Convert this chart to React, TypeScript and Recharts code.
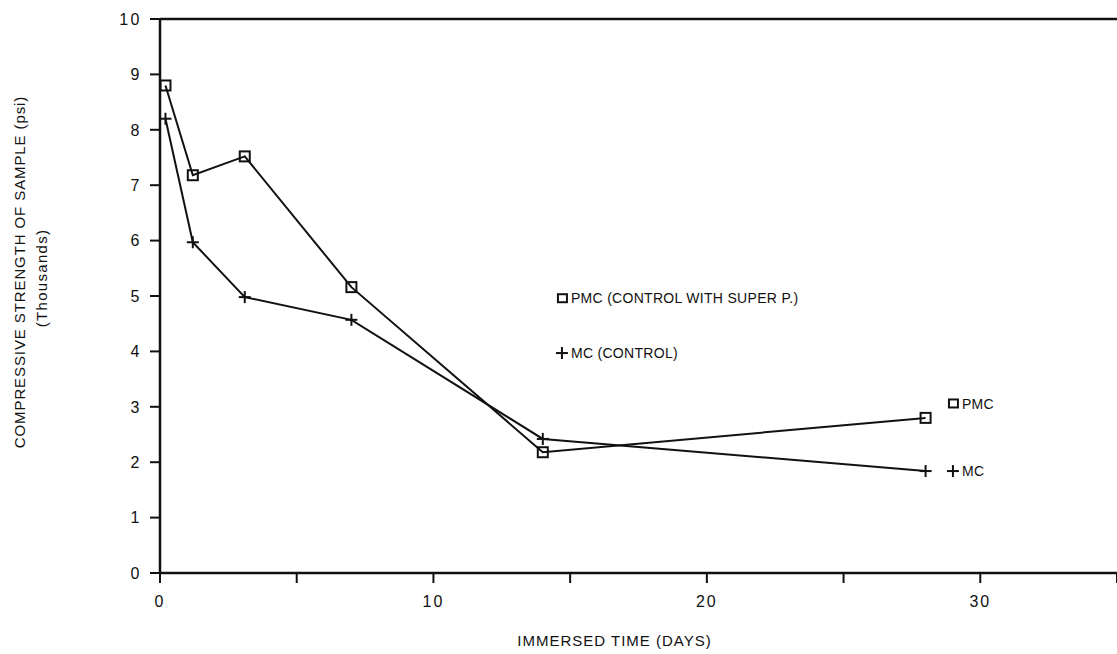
import React from 'react';
import { LineChart, Line, XAxis, YAxis, ReferenceLine, ReferenceDot, Label } from 'recharts';

const days = [0.2, 1.2, 3.1, 7, 14, 28];
const pmcStrength = [8.8, 7.18, 7.52, 5.16, 2.18, 2.8];
const mcStrength = [8.2, 5.97, 4.98, 4.57, 2.42, 1.84];
const xTicks = [0, 5, 10, 15, 20, 25, 30, 35];
const xLabelled = [0, 10, 20, 30];
const yTicks = [0, 1, 2, 3, 4, 5, 6, 7, 8, 9, 10];

const legendPmc = { x: 14.7, y: 4.96, text: 'PMC (CONTROL WITH SUPER P.)' };
const legendMc = { x: 14.7, y: 3.97, text: 'MC (CONTROL)' };
const endPmc = { x: 29, y: 3.06, text: 'PMC' };
const endMc = { x: 29, y: 1.84, text: 'MC' };

const data = days.map((d, i) => ({ day: d, pmc: pmcStrength[i], mc: mcStrength[i] }));

const FONT = '"Liberation Sans", Arial, sans-serif';
const INK = '#111';

const Square = (props: any) => {
  const { cx, cy } = props;
  if (cx == null || cy == null) return null;
  return <rect x={cx - 5} y={cy - 5} width={10} height={10} fill="none" stroke={INK} strokeWidth={2} />;
};

const Plus = (props: any) => {
  const { cx, cy } = props;
  if (cx == null || cy == null) return null;
  return (
    <g stroke={INK} strokeWidth={2}>
      <line x1={cx - 6} y1={cy} x2={cx + 6} y2={cy} />
      <line x1={cx} y1={cy - 6} x2={cx} y2={cy + 6} />
    </g>
  );
};

const annot = (kind: 'sq' | 'plus', text: string) => (props: any) => {
  const { cx, cy } = props;
  if (cx == null || cy == null) return null;
  return (
    <g>
      {kind === 'sq' ? (
        <rect x={cx - 4} y={cy - 4} width={9} height={8} fill="none" stroke={INK} strokeWidth={2} />
      ) : (
        <g stroke={INK} strokeWidth={2}>
          <line x1={cx - 6} y1={cy} x2={cx + 6} y2={cy} />
          <line x1={cx} y1={cy - 6} x2={cx} y2={cy + 6} />
        </g>
      )}
      <text x={cx + 9} y={cy} dy="0.36em" fontSize={14} fontFamily={FONT} fill={INK} letterSpacing={0.3}>
        {text}
      </text>
    </g>
  );
};

const XTick = (props: any) => {
  const { x, y, payload } = props;
  if (!xLabelled.includes(payload.value)) return null;
  return (
    <text x={x} y={y + 11} dy="0.71em" textAnchor="middle" fontSize={16} fontFamily={FONT} fill={INK} letterSpacing={2}>
      {payload.value}
    </text>
  );
};

const YTick = (props: any) => {
  const { x, y, payload } = props;
  return (
    <text x={x - 6} y={y} dy="0.36em" textAnchor="end" fontSize={16} fontFamily={FONT} fill={INK} letterSpacing={2.5}>
      {payload.value}
    </text>
  );
};

const YTitle = (props: any) => {
  const vb = props.viewBox || { x: 0, y: 19, width: 160, height: 554 };
  const cy = vb.y + vb.height / 2 - 24;
  const x1 = vb.x + 20;
  const x2 = vb.x + 42;
  return (
    <g fontFamily={FONT} fill={INK}>
      <text x={x1} y={cy} transform={`rotate(-90 ${x1} ${cy})`} textAnchor="middle" dy="0.36em" fontSize={15} letterSpacing={0.9}>
        COMPRESSIVE STRENGTH OF SAMPLE (psi)
      </text>
      <text x={x2} y={cy + 6} transform={`rotate(-90 ${x2} ${cy + 6})`} textAnchor="middle" dy="0.36em" fontSize={15} letterSpacing={1.3}>
        (Thousands)
      </text>
    </g>
  );
};

export default function App() {
  return (
    <div style={{ position: 'absolute', left: 0, top: 0, width: 1117, height: 654, overflow: 'hidden', background: '#fff' }}>
      <LineChart width={1117} height={654} data={data} margin={{ top: 19, right: 0, bottom: 0, left: 0 }}>
        <XAxis
          dataKey="day"
          type="number"
          domain={[0, 35]}
          ticks={xTicks}
          allowDataOverflow
          height={81}
          tick={<XTick />}
          tickSize={10}
          axisLine={{ stroke: INK, strokeWidth: 2.5 }}
          tickLine={{ stroke: INK, strokeWidth: 2 }}
        >
          <Label value="IMMERSED TIME (DAYS)" position="insideBottom" offset={8} dx={-24} fontSize={15} fontFamily={FONT} fill={INK} letterSpacing={1} />
        </XAxis>
        <YAxis
          type="number"
          domain={[0, 10]}
          ticks={yTicks}
          width={160}
          tick={<YTick />}
          tickSize={10}
          axisLine={{ stroke: INK, strokeWidth: 2.5 }}
          tickLine={{ stroke: INK, strokeWidth: 2 }}
          label={<YTitle />}
        />
        <ReferenceLine y={10} stroke={INK} strokeWidth={2.5} ifOverflow="visible" />
        <Line dataKey="pmc" stroke={INK} strokeWidth={2} dot={<Square />} isAnimationActive={false} />
        <Line dataKey="mc" stroke={INK} strokeWidth={2} dot={<Plus />} isAnimationActive={false} />
        <ReferenceDot x={legendPmc.x} y={legendPmc.y} r={0} shape={annot('sq', legendPmc.text)} ifOverflow="visible" />
        <ReferenceDot x={legendMc.x} y={legendMc.y} r={0} shape={annot('plus', legendMc.text)} ifOverflow="visible" />
        <ReferenceDot x={endPmc.x} y={endPmc.y} r={0} shape={annot('sq', endPmc.text)} ifOverflow="visible" />
        <ReferenceDot x={endMc.x} y={endMc.y} r={0} shape={annot('plus', endMc.text)} ifOverflow="visible" />
      </LineChart>
    </div>
  );
}
